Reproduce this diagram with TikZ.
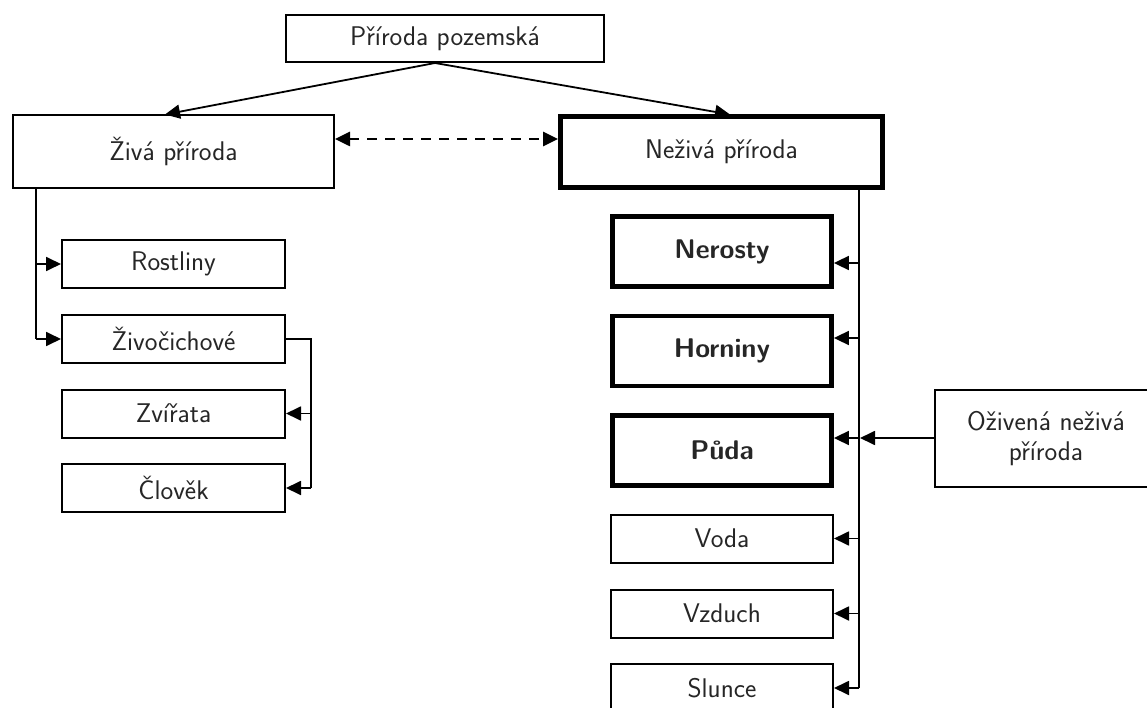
\documentclass[tikz,border=0pt]{standalone}
\usepackage{fontspec}
\usetikzlibrary{arrows.meta}
\begin{document}
\begin{tikzpicture}[x=1pt,y=-1pt,
  every node/.style={font=\sffamily\fontsize{27}{30}\selectfont, text=black!85},
  box/.style={draw=black, line width=2pt, rectangle, inner sep=0pt, fill=white},
  thickbox/.style={draw=black, line width=4.8pt, rectangle, inner sep=0pt, fill=white, font=\sffamily\bfseries\fontsize{27}{30}\selectfont},
  conn/.style={line width=1.8pt},
  tip/.style={Triangle[length=15pt,width=14pt]},
  arr/.style={conn, -{Triangle[length=15pt,width=14pt]}},
]
\useasboundingbox (0,0) rectangle (1147,708);
\clip (0,0) rectangle (1147,708);
% nodes
\node[box, minimum width=318pt, minimum height=47pt] (top) at (445,38.5) {Příroda pozemská};
\node[box, minimum width=321pt, minimum height=73pt] (ziva) at (173.5,151.5) {Živá příroda};
\node[box, line width=4.8pt, minimum width=322pt, minimum height=71pt] (neziva) at (721.5,152) {Neživá příroda};

\node[box, minimum width=223pt, minimum height=48pt] (rostliny) at (173.5,264) {Rostliny};
\node[box, minimum width=223pt, minimum height=48pt] (zivocichove) at (173.5,339) {Živočichové};
\node[box, minimum width=223pt, minimum height=48pt] (zvirata) at (173.5,413.5) {Zvířata};
\node[box, minimum width=223pt, minimum height=48pt] (clovek) at (173.5,488) {Člověk};

\node[thickbox, minimum width=219pt, minimum height=70pt] (nerosty) at (722,251.5) {Nerosty};
\node[thickbox, minimum width=219pt, minimum height=70pt] (horniny) at (722,351) {Horniny};
\node[thickbox, minimum width=219pt, minimum height=70pt] (puda) at (722,450.5) {Půda};

\node[box, minimum width=222pt, minimum height=48pt] (voda) at (722,538.5) {Voda};
\node[box, minimum width=222pt, minimum height=48pt] (vzduch) at (722,613.5) {Vzduch};
\node[box, minimum width=222pt, minimum height=48pt] (slunce) at (722,688) {Slunce};

\node[box, minimum width=222pt, minimum height=97pt, align=center] (ozivena) at (1046,438.5) {Oživená neživá\\příroda};

% top arrows
\coordinate (src) at (435,63);
\draw[arr] (src) -- (165,114.5);
\draw[arr] (src) -- (730,114.5);

% dashed double arrow
\coordinate (dl) at (ziva.east |- 0,139);
\coordinate (dr) at (neziva.west |- 0,139);
\draw[line width=2.6pt, dash pattern=on 10pt off 8pt, {Triangle[length=15pt,width=14pt]}-{Triangle[length=15pt,width=14pt]}] (dl) -- (dr);

% left trunk
\coordinate (lt) at (36,188);
\draw[conn] (lt) -- (36,339);
\draw[arr] (36,264) -- (rostliny.west);
\draw[arr] (36,339) -- (zivocichove.west);

% Zivocichove branch
\coordinate (zb) at (311,339);
\draw[conn] (zivocichove.east) -- (zb) -- (311,488);
\draw[arr] (311,413.5) -- (zvirata.east);
\draw[arr] (311,488) -- (clovek.east);

% right trunk
\coordinate (rt) at (859,190);
\coordinate (rb) at (859,688);
\draw[conn] (rt) -- (rb);
\coordinate (r1) at (859,263);
\coordinate (r2) at (859,338);
\coordinate (r3) at (859,438);
\draw[arr] (r1) -- (r1 -| nerosty.east);
\draw[arr] (r2) -- (r2 -| horniny.east);
\draw[arr] (r3) -- (r3 -| puda.east);
\draw[arr] (859,538.5) -- (voda.east);
\draw[arr] (859,613.5) -- (vzduch.east);
\draw[arr] (rb) -- (slunce.east);

% ozivena
\draw[arr, shorten >=1pt] (ozivena.west |- r3) -- (r3);
\end{tikzpicture}
\end{document}
